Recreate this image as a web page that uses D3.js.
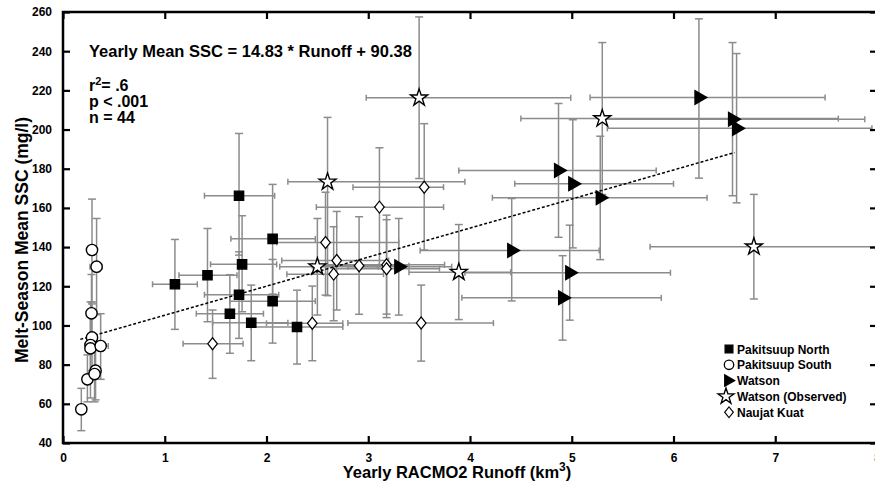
<!DOCTYPE html>
<html lang="en">
<head>
<meta charset="UTF-8">
<title>SSC vs Runoff</title>
<script src="https://d3js.org/d3.v7.min.js"></script>
<style>
  body { margin: 0; background: #fff; }
  text { font-family: "Liberation Sans", Arial, sans-serif; font-weight: bold; }
</style>
</head>
<body>
<script type="text/javascript">
    // each point: [runoff, ssc, runoffLo, runoffHi, sscLo, sscHi]
    var pakitsuupNorth = [
        [1.10, 121.0, 0.88, 1.32, 98.0, 143.9],
        [1.42, 125.6, 1.14, 1.71, 101.9, 149.5],
        [1.64, 106.0, 1.31, 1.97, 85.8, 125.9],
        [1.73, 115.7, 1.39, 2.12, 93.4, 137.6],
        [1.73, 166.2, 1.39, 2.08, 135.9, 198.0],
        [1.76, 131.2, 1.45, 2.10, 107.0, 156.0],
        [1.85, 101.4, 1.47, 2.21, 82.0, 120.6],
        [2.06, 144.2, 1.65, 2.48, 116.0, 172.0],
        [2.06, 112.4, 1.64, 2.48, 91.0, 133.7],
        [2.30, 99.2, 1.85, 2.75, 80.3, 118.0]
    ];
    var pakitsuupSouth = [
        [0.18, 57.2, 0.15, 0.21, 46.3, 67.9],
        [0.24, 72.5, 0.20, 0.28, 61.0, 85.0],
        [0.285, 138.5, 0.25, 0.32, 112.0, 164.5],
        [0.33, 130.0, 0.265, 0.386, 105.5, 154.6],
        [0.28, 106.2, 0.25, 0.31, 86.0, 126.0],
        [0.285, 93.9, 0.25, 0.32, 77.0, 111.0],
        [0.27, 90.0, 0.24, 0.30, 73.0, 107.0],
        [0.27, 88.3, 0.24, 0.30, 63.0, 112.0],
        [0.37, 89.5, 0.30, 0.445, 72.5, 106.0],
        [0.32, 76.9, 0.29, 0.35, 62.0, 92.0],
        [0.31, 75.2, 0.28, 0.34, 61.0, 90.0]
    ];
    var watson = [
        [4.87, 179.1, 3.89, 5.83, 145.0, 213.3],
        [5.01, 172.3, 4.44, 6.00, 139.6, 205.0],
        [5.28, 165.2, 4.22, 6.33, 133.6, 196.6],
        [4.41, 138.3, 3.51, 5.27, 112.5, 164.8],
        [4.98, 126.9, 3.95, 5.97, 102.7, 151.2],
        [4.91, 114.1, 3.92, 5.88, 92.5, 135.6],
        [3.30, 130.0, 2.80, 3.82, 105.3, 154.6],
        [6.25, 216.4, 5.18, 7.49, 175.2, 256.5],
        [6.58, 205.3, 5.28, 7.88, 166.2, 244.4],
        [6.62, 200.6, 5.35, 7.95, 162.6, 238.8]
    ];
    var watsonObserved = [
        [3.50, 216.2, 2.98, 4.99, 175.0, 257.5],
        [5.30, 205.6, 4.50, 7.62, 166.8, 244.4],
        [2.60, 173.3, 2.21, 3.95, 115.2, 206.2],
        [2.50, 130.0, 2.13, 3.10, 105.3, 154.6],
        [3.89, 127.2, 3.40, 4.40, 103.0, 151.5],
        [6.79, 140.2, 5.77, 8.00, 113.5, 166.9]
    ];
    var naujatKuat = [
        [1.47, 90.7, 1.18, 1.77, 73.0, 107.9],
        [2.58, 142.4, 2.10, 3.30, 115.5, 168.0],
        [2.69, 133.2, 2.15, 3.20, 107.9, 158.2],
        [2.66, 126.2, 2.20, 3.15, 102.4, 150.4],
        [2.91, 130.5, 2.45, 3.40, 105.7, 155.5],
        [2.45, 101.1, 2.00, 2.75, 82.0, 120.1],
        [3.11, 160.4, 2.49, 3.74, 130.0, 190.7],
        [3.55, 170.6, 2.85, 3.74, 138.5, 203.0],
        [3.18, 131.0, 2.60, 3.75, 105.8, 156.3],
        [3.18, 129.0, 2.65, 3.70, 104.0, 154.0],
        [3.52, 101.2, 2.80, 4.23, 81.8, 120.6]
    ];

    var xTicks = [0, 1, 2, 3, 4, 5, 6, 7, 8];
    var yTicks = [40, 60, 80, 100, 120, 140, 160, 180, 200, 220, 240, 260];
    var fitSlope = 14.83, fitIntercept = 90.38, fitRange = [0.17, 6.6];
    var statLines = ["p < .001", "n = 44"];
    var legendNames = ["Pakitsuup North", "Pakitsuup South", "Watson", "Watson (Observed)", "Naujat Kuat"];

    var svgWidth = 875, svgHeight = 487;
    var plotLeft = 63, plotTop = 12, plotRight = 877, plotBottom = 443;

    var xScale = d3.scaleLinear().domain([0, 8]).range([plotLeft, plotRight]);
    var yScale = d3.scaleLinear().domain([40, 260]).range([plotBottom, plotTop]);

    var svg = d3.select("body").append("svg")
        .attr("width", svgWidth)
        .attr("height", svgHeight);

    // diamond drawn as a squashed, rotated square so it is wider than d3's own
    var series = [
        {data: pakitsuupNorth, symbol: d3.symbolSquare, size: 85, fill: "black", rot: "rotate(0)"},
        {data: pakitsuupSouth, symbol: d3.symbolCircle, size: 100, fill: "white", rot: "rotate(0)"},
        {data: watson, symbol: d3.symbolTriangle, size: 80, fill: "black", rot: "rotate(90)"},
        {data: watsonObserved, symbol: d3.symbolStar, size: 90, fill: "white", rot: "rotate(0)"},
        {data: naujatKuat, symbol: d3.symbolSquare, size: 72, fill: "white", rot: "scale(0.8,1) rotate(45)"}
    ];

    // error bars first
    var bars = svg.append("g").attr("stroke", "#8c8c8c").attr("stroke-width", 1.5).attr("fill", "none");
    series.forEach(function (s) {
        s.data.forEach(function (d) {
            var cx = xScale(d[0]), cy = yScale(d[1]);
            bars.append("line").attr("x1", xScale(d[2])).attr("x2", xScale(d[3])).attr("y1", cy).attr("y2", cy);
            bars.append("line").attr("x1", xScale(d[2])).attr("x2", xScale(d[2])).attr("y1", cy - 3).attr("y2", cy + 3);
            bars.append("line").attr("x1", xScale(d[3])).attr("x2", xScale(d[3])).attr("y1", cy - 3).attr("y2", cy + 3);
            bars.append("line").attr("x1", cx).attr("x2", cx).attr("y1", yScale(d[4])).attr("y2", yScale(d[5]));
            bars.append("line").attr("x1", cx - 4).attr("x2", cx + 4).attr("y1", yScale(d[4])).attr("y2", yScale(d[4]));
            bars.append("line").attr("x1", cx - 4).attr("x2", cx + 4).attr("y1", yScale(d[5])).attr("y2", yScale(d[5]));
        });
    });

    // regression line
    svg.append("line")
        .attr("x1", xScale(fitRange[0])).attr("y1", yScale(fitSlope * fitRange[0] + fitIntercept))
        .attr("x2", xScale(fitRange[1])).attr("y2", yScale(fitSlope * fitRange[1] + fitIntercept))
        .attr("stroke", "black").attr("stroke-width", 1.5).attr("stroke-dasharray", "3,2");

    // markers
    series.forEach(function (s) {
        svg.append("g").selectAll("path")
            .data(s.data)
            .enter()
            .append("path")
            .attr("d", d3.symbol().type(s.symbol).size(s.size))
            .attr("transform", function (d) {
                return "translate(" + xScale(d[0]) + "," + yScale(d[1]) + ") " + s.rot;
            })
            .attr("fill", s.fill)
            .attr("stroke", "black")
            .attr("stroke-width", 1.4);
    });

    // frame and axes
    svg.append("rect")
        .attr("x", plotLeft).attr("y", plotTop)
        .attr("width", plotRight - plotLeft).attr("height", plotBottom - plotTop)
        .attr("fill", "none").attr("stroke", "black").attr("stroke-width", 2.5);

    var xAxis = d3.axisBottom(xScale).tickValues(xTicks).tickSize(-7).tickPadding(10).tickFormat(d3.format("d"));
    var gx = svg.append("g").attr("transform", "translate(0," + plotBottom + ")").call(xAxis);
    var xTop = d3.axisTop(xScale).tickValues(xTicks).tickSize(-7).tickFormat("");
    var gxt = svg.append("g").attr("transform", "translate(0," + plotTop + ")").call(xTop);
    var yAxis = d3.axisLeft(yScale).tickValues(yTicks).tickSize(-7).tickPadding(11);
    var gy = svg.append("g").attr("transform", "translate(" + plotLeft + ",0)").call(yAxis);
    var yRight = d3.axisRight(yScale).tickValues(yTicks).tickSize(-7).tickFormat("");
    var gyr = svg.append("g").attr("transform", "translate(" + plotRight + ",0)").call(yRight);
    [gx, gxt, gy, gyr].forEach(function (g) {
        g.select(".domain").remove();
        g.selectAll(".tick line").attr("stroke", "black").attr("stroke-width", 2.2);
        g.selectAll(".tick text").attr("fill", "black").style("font-size", "12px")
            .style("font-family", "'Liberation Sans', Arial, sans-serif").style("font-weight", "bold");
    });

    // axis titles
    svg.append("text")
        .attr("transform", "translate(28,240) rotate(-90)")
        .attr("text-anchor", "middle")
        .style("font-size", "17.5px")
        .text("Melt-Season Mean SSC (mg/l)");
    var xt = svg.append("text")
        .attr("x", 457).attr("y", 478)
        .attr("text-anchor", "middle")
        .style("font-size", "16.5px");
    xt.append("tspan").text("Yearly RACMO2 Runoff (km");
    xt.append("tspan").attr("dy", -7).style("font-size", "12px").text("3");
    xt.append("tspan").attr("dy", 7).text(")");

    // annotations
    svg.append("text").attr("x", 89).attr("y", 57).style("font-size", "16.5px")
        .text("Yearly Mean SSC = " + fitSlope + " * Runoff + " + fitIntercept);
    var r2 = svg.append("text").attr("x", 89).attr("y", 91).style("font-size", "16px");
    r2.append("tspan").text("r");
    r2.append("tspan").attr("dy", -6).style("font-size", "11px").text("2");
    r2.append("tspan").attr("dy", 6).text("= .6");
    statLines.forEach(function (t, i) {
        svg.append("text").attr("x", 89).attr("y", 107 + i * 16).style("font-size", "16px").text(t);
    });

    // legend
    var legend = svg.append("g").attr("transform", "translate(729,349)");
    var legendSizes = [60, 70, 55, 80, 58];
    series.forEach(function (s, i) {
        var g = legend.append("g").attr("transform", "translate(0," + (i * 15.8) + ")");
        g.append("path")
            .attr("d", d3.symbol().type(s.symbol).size(legendSizes[i]))
            .attr("transform", "translate(" + (i === 3 ? -3 : (i === 2 ? -1 : 0)) + ",0) " + s.rot)
            .attr("fill", s.fill).attr("stroke", "black").attr("stroke-width", 1.3);
        g.append("text").attr("x", 8).attr("y", 4.5).style("font-size", "12px").text(legendNames[i]);
    });
</script>
</body>
</html>
